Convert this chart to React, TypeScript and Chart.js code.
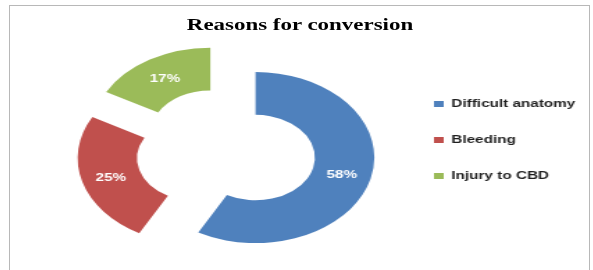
import React, { useEffect, useRef } from 'react';
import { Chart, registerables } from 'chart.js';

Chart.register(...registerables);

// ---- data ----
const categories = ['Difficult anatomy', 'Bleeding', 'Injury to CBD'];
const percentages = [58, 25, 17];
const sliceColors = ['#4F81BD', '#C0504D', '#9BBB59'];
const chartTitle = 'Reasons for conversion';

// ---- layout ----
const SX = 1.39; // the reference is horizontally stretched
const CW = 425;
const CH = 264;
const EXPLODE = 22; // how far each slice is pulled out

export default function App() {
  const ref = useRef<HTMLCanvasElement>(null);

  useEffect(() => {
    const canvas = ref.current!;
    const m = canvas.getContext('2d')!;
    m.font = 'bold 11px "Liberation Sans"';
    const tw = Math.max(...categories.map((c) => m.measureText(c).width));
    const legendLeft = 280;
    const legendWidth = 25 + 7 + 5.5 + tw + 10;
    const padRight = CW - legendLeft - legendWidth;

    // pull every slice outwards along its mid angle, keeping its radii
    const explodePlugin = {
      id: 'explodeSlices',
      beforeDatasetsDraw(chart: any) {
        const meta = chart.getDatasetMeta(0);
        meta.data.forEach((arc: any) => {
          if (arc.__exploded) return;
          const orig = arc.draw;
          arc.draw = function (ctx: CanvasRenderingContext2D, area: any) {
            const mid = (this.startAngle + this.endAngle) / 2;
            ctx.save();
            ctx.translate(Math.cos(mid) * EXPLODE, Math.sin(mid) * EXPLODE);
            orig.call(this, ctx, area);
            ctx.restore();
          };
          arc.__exploded = true;
        });
      },
    };

    const labelPlugin = {
      id: 'sliceLabels',
      afterDatasetsDraw(chart: any) {
        const ctx = chart.ctx;
        const meta = chart.getDatasetMeta(0);
        ctx.save();
        ctx.font = 'bold 11px "Liberation Sans"';
        ctx.fillStyle = '#ffffff';
        ctx.textAlign = 'center';
        ctx.textBaseline = 'middle';
        meta.data.forEach((arc: any, i: number) => {
          const p = arc.getProps(['x', 'y', 'startAngle', 'endAngle', 'innerRadius', 'outerRadius']);
          const mid = (p.startAngle + p.endAngle) / 2;
          const r = EXPLODE + (p.innerRadius + p.outerRadius) / 2;
          ctx.fillText(percentages[i] + '%', p.x + Math.cos(mid) * r, p.y + Math.sin(mid) * r + 1.5);
        });
        ctx.restore();
      },
    };

    const chart = new Chart(canvas, {
      type: 'doughnut',
      data: {
        labels: categories,
        datasets: [
          {
            data: percentages,
            backgroundColor: sliceColors,
            borderWidth: 0,
            offset: 0,
            hoverOffset: 0,
            clip: false as any,
          },
        ],
      },
      options: {
        responsive: false,
        animation: false,
        devicePixelRatio: 1,
        radius: 85.5,
        cutout: '50%',
        events: [],
        layout: {
          padding: { left: 30.6, right: padRight, top: 67.5, bottom: 39.3 },
        },
        plugins: {
          title: { display: false },
          tooltip: { enabled: false },
          legend: {
            display: true,
            position: 'right',
            align: 'start',
            labels: {
              boxWidth: 7,
              boxHeight: 6,
              padding: 25,
              color: '#1f1f1f',
              font: { family: '"Liberation Sans"', size: 11, weight: 'bold' },
            },
          },
        },
      } as any,
      plugins: [explodePlugin, labelPlugin],
    });
    return () => chart.destroy();
  }, []);

  return (
    <div
      style={{
        position: 'absolute',
        left: 0,
        top: 0,
        width: 593,
        height: 270,
        overflow: 'hidden',
        background: '#ffffff',
      }}
    >
      <div
        style={{
          position: 'absolute',
          left: 9,
          top: 5,
          width: 581,
          height: 300,
          boxSizing: 'border-box',
          border: '1px solid #b8b8b8',
          overflow: 'hidden',
        }}
      >
        <div
          style={{
            position: 'absolute',
            left: 0,
            top: 0,
            width: CW,
            height: CH,
            transform: `scaleX(${SX})`,
            transformOrigin: '0 0',
          }}
        >
          <canvas
            ref={ref}
            width={CW}
            height={CH}
            style={{ position: 'absolute', left: 0, top: 0, width: CW + 'px', height: CH + 'px' }}
          />
          <div
            style={{
              position: 'absolute',
              left: 0,
              top: 8.5,
              width: 580 / SX,
              textAlign: 'center',
              fontFamily: '"Liberation Serif", "Times New Roman", serif',
              fontWeight: 'bold',
              fontSize: '16.5px',
              lineHeight: '20px',
              color: '#000000',
              whiteSpace: 'nowrap',
            }}
          >
            {chartTitle}
          </div>
        </div>
      </div>
    </div>
  );
}
